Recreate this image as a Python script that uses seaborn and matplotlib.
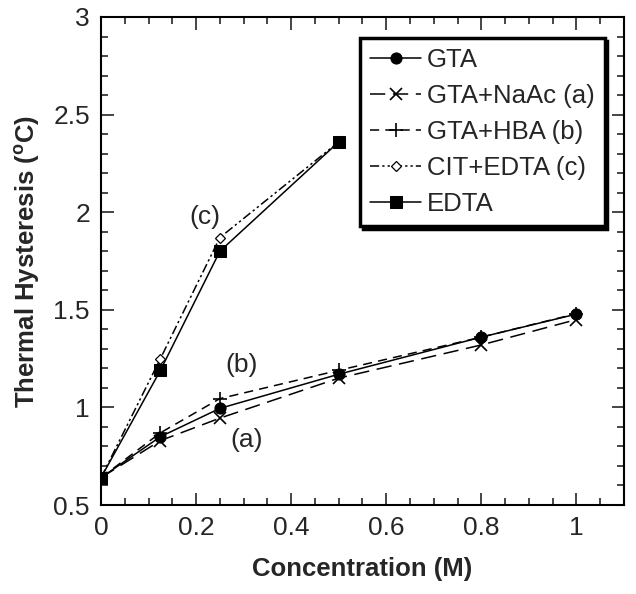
import matplotlib
matplotlib.use("Agg")
import matplotlib.pyplot as plt
import seaborn as sns
import pandas as pd
from matplotlib.ticker import MultipleLocator

sns.set_style("ticks")
plt.rcParams['font.family'] = ['Liberation Sans', 'DejaVu Sans']

x_gta = [0, 0.125, 0.25, 0.5, 0.8, 1.0]
y_gta = [0.64, 0.85, 0.995, 1.17, 1.36, 1.478]
x_naac = [0, 0.125, 0.25, 0.5, 0.8, 1.0]
y_naac = [0.64, 0.83, 0.945, 1.15, 1.32, 1.45]
x_hba = [0, 0.125, 0.25, 0.5, 0.8, 1.0]
y_hba = [0.64, 0.87, 1.045, 1.19, 1.36, 1.48]
x_cit = [0, 0.125, 0.25, 0.5]
y_cit = [0.64, 1.25, 1.87, 2.36]
x_edta = [0, 0.125, 0.25, 0.5]
y_edta = [0.64, 1.19, 1.80, 2.36]

labels = ["GTA", "GTA+NaAc (a)", "GTA+HBA (b)", "CIT+EDTA (c)", "EDTA"]

fig = plt.figure(figsize=(6.36, 5.94), dpi=100)
ax = fig.add_axes([0.1588, 0.1498, 0.9811 - 0.1588, 0.9714 - 0.1498])

series = [
    (x_gta, y_gta, dict(marker='o', markersize=8, linestyle='-', markerfacecolor='black')),
    (x_naac, y_naac, dict(marker='x', markersize=8, linestyle=(0, (10, 5)), markeredgewidth=1.2)),
    (x_hba, y_hba, dict(marker='+', markersize=10, linestyle=(0, (6, 4)), markeredgewidth=1.2)),
    (x_cit, y_cit, dict(marker='D', markersize=5, linestyle=(0, (6, 2, 1.5, 2, 1.5, 2)), markerfacecolor='white', markeredgewidth=0.9)),
    (x_edta, y_edta, dict(marker='s', markersize=9, linestyle='-', markerfacecolor='black')),
]

for (xs, ys, kw), lab in zip(series, labels):
    df = pd.DataFrame({"x": xs, "y": ys})
    sns.lineplot(data=df, x="x", y="y", ax=ax, color='black', linewidth=1.1,
                 label=lab, markeredgecolor='black', **kw)

ax.set_xlim(0, 1.1)
ax.set_ylim(0.5, 3)
ax.xaxis.set_minor_locator(MultipleLocator(0.05))
ax.yaxis.set_minor_locator(MultipleLocator(0.1))
ax.set_xticks([0, 0.2, 0.4, 0.6, 0.8, 1.0])
ax.set_xticklabels(["0", "0.2", "0.4", "0.6", "0.8", "1"])
ax.set_yticks([0.5, 1, 1.5, 2, 2.5, 3])
ax.set_yticklabels(["0.5", "1", "1.5", "2", "2.5", "3"])
ax.tick_params(which='both', direction='in', top=True, right=True, labelsize=19, width=1.2, pad=8)
ax.tick_params(which='major', length=9)
ax.tick_params(which='minor', length=5)
for s in ax.spines.values():
    s.set_linewidth(1.5)
    s.set_color('black')

ax.set_xlabel("Concentration (M)", fontsize=18.5, fontweight='bold', labelpad=12)
ax.set_ylabel("Thermal Hysteresis ($^{\\mathregular{o}}$C)", fontsize=18.5, fontweight='bold', labelpad=8)

ax.text(0.219, 1.975, "(c)", fontsize=19, ha='center', va='center')
ax.text(0.296, 1.217, "(b)", fontsize=19, ha='center', va='center')
ax.text(0.307, 0.833, "(a)", fontsize=19, ha='center', va='center')

leg = ax.legend(loc='upper right', bbox_to_anchor=(0.963, 0.957), fontsize=18.5, frameon=True,
                fancybox=False, shadow={'color': 'black', 'alpha': 1, 'ox': 2, 'oy': -2},
                handlelength=2.0, handletextpad=0.2,
                borderpad=0.4, labelspacing=0.46, borderaxespad=0)
leg.get_frame().set_edgecolor('black')
leg.get_frame().set_linewidth(2.5)
leg.get_frame().set_alpha(1)

fig.savefig("out.png", dpi=100)
